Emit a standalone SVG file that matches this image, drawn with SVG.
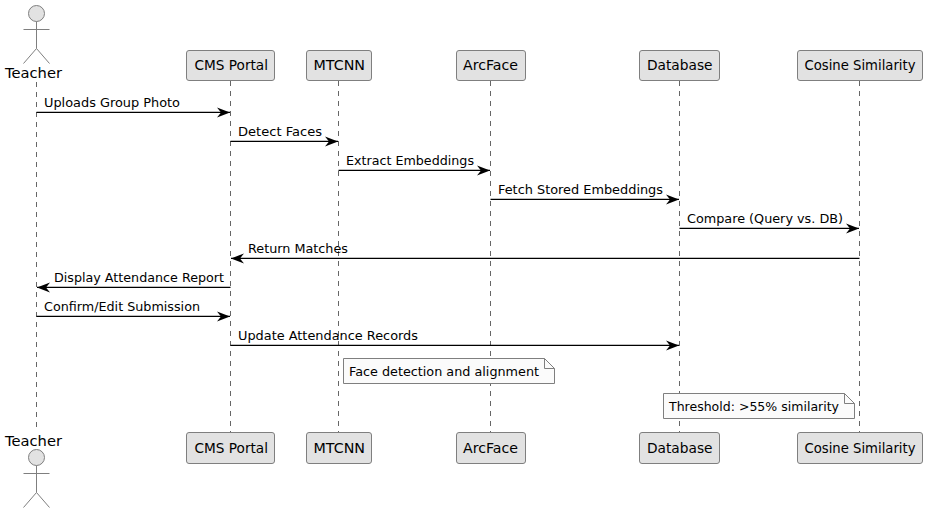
<svg xmlns="http://www.w3.org/2000/svg" width="927" height="513" viewBox="0 0 927 513">
<defs>
<marker id="ah" markerUnits="userSpaceOnUse" markerWidth="15" markerHeight="12" refX="13" refY="6" orient="auto"><path d="M0,1 L13,6 L0,11 L4,6 Z" fill="#000"/></marker>
</defs>
<style>
text{font-family:"DejaVu Sans",sans-serif;font-size:13px;fill:#000}
.life{stroke:#666;stroke-width:1;stroke-dasharray:5 5;fill:none}
.box{fill:#e2e2e2;stroke:#7f7f7f;stroke-width:1}
.msg{stroke:#000;stroke-width:1.2;fill:none;marker-end:url(#ah)}
.note{fill:#fbfbfb;stroke:#7f7f7f;stroke-width:1}
.fold{fill:none;stroke:#7f7f7f;stroke-width:1}
.act{fill:#e2e2e2;stroke:#7f7f7f;stroke-width:1}
.limb{fill:none;stroke:#7f7f7f;stroke-width:1}
.name{font-size:14px}
</style>
<rect width="927" height="513" fill="#fff"/>
<g id="lifelines">
<line class="life" x1="36.5" y1="82" x2="36.5" y2="432"/>
<line class="life" x1="230.5" y1="81" x2="230.5" y2="432"/>
<line class="life" x1="338.5" y1="81" x2="338.5" y2="432"/>
<line class="life" x1="490.5" y1="81" x2="490.5" y2="432"/>
<line class="life" x1="679.5" y1="81" x2="679.5" y2="432"/>
<line class="life" x1="859.5" y1="81" x2="859.5" y2="432"/>
</g>
<g id="teacher-top">
<circle class="act" cx="36.5" cy="13.5" r="8"/>
<path class="limb" d="M36.5,21.5V48.5M23.5,29.5H49.5M36.5,48.5L23.5,63.5M36.5,48.5L49.5,63.5"/>
<text x="5" y="78" class="name" textLength="57" lengthAdjust="spacingAndGlyphs">Teacher</text>
</g>
<g id="teacher-bottom">
<text x="5" y="446" class="name" textLength="57" lengthAdjust="spacingAndGlyphs">Teacher</text>
<circle class="act" cx="36.5" cy="457.5" r="8"/>
<path class="limb" d="M36.5,465.5V492.5M23.5,473.5H49.5M36.5,492.5L23.5,507.5M36.5,492.5L49.5,507.5"/>
</g>
<g id="cms-top"><rect class="box" x="186.5" y="50.5" width="88" height="30" rx="2.5"/><text class="name" x="194.5" y="70" textLength="73.5" lengthAdjust="spacingAndGlyphs">CMS Portal</text></g>
<g id="mtcnn-top"><rect class="box" x="306.5" y="50.5" width="65" height="30" rx="2.5"/><text class="name" x="313.5" y="70" textLength="51.5" lengthAdjust="spacingAndGlyphs">MTCNN</text></g>
<g id="arcface-top"><rect class="box" x="456.5" y="50.5" width="69" height="30" rx="2.5"/><text class="name" x="463" y="70" textLength="55" lengthAdjust="spacingAndGlyphs">ArcFace</text></g>
<g id="database-top"><rect class="box" x="639.5" y="50.5" width="80" height="30" rx="2.5"/><text class="name" x="647" y="70" textLength="65.5" lengthAdjust="spacingAndGlyphs">Database</text></g>
<g id="cosine-top"><rect class="box" x="797.5" y="50.5" width="125" height="30" rx="2.5"/><text class="name" x="804.5" y="70" textLength="111" lengthAdjust="spacingAndGlyphs">Cosine Similarity</text></g>
<g id="cms-bottom"><rect class="box" x="186.5" y="432.5" width="88" height="31" rx="2.5"/><text class="name" x="194.5" y="453" textLength="73.5" lengthAdjust="spacingAndGlyphs">CMS Portal</text></g>
<g id="mtcnn-bottom"><rect class="box" x="306.5" y="432.5" width="65" height="31" rx="2.5"/><text class="name" x="313.5" y="453" textLength="51.5" lengthAdjust="spacingAndGlyphs">MTCNN</text></g>
<g id="arcface-bottom"><rect class="box" x="456.5" y="432.5" width="69" height="31" rx="2.5"/><text class="name" x="463" y="453" textLength="55" lengthAdjust="spacingAndGlyphs">ArcFace</text></g>
<g id="database-bottom"><rect class="box" x="639.5" y="432.5" width="80" height="31" rx="2.5"/><text class="name" x="647" y="453" textLength="65.5" lengthAdjust="spacingAndGlyphs">Database</text></g>
<g id="cosine-bottom"><rect class="box" x="797.5" y="432.5" width="125" height="31" rx="2.5"/><text class="name" x="804.5" y="453" textLength="111" lengthAdjust="spacingAndGlyphs">Cosine Similarity</text></g>
<g id="connectors">
<line class="msg" x1="36.5" y1="112.4" x2="230" y2="112.4"/>
<line class="msg" x1="230.5" y1="141.4" x2="338" y2="141.4"/>
<line class="msg" x1="338.5" y1="170.4" x2="490" y2="170.4"/>
<line class="msg" x1="490.5" y1="199.4" x2="679" y2="199.4"/>
<line class="msg" x1="679.5" y1="228.4" x2="859" y2="228.4"/>
<line class="msg" x1="859.5" y1="258.4" x2="231" y2="258.4"/>
<line class="msg" x1="230.5" y1="287.4" x2="37" y2="287.4"/>
<line class="msg" x1="36.5" y1="316.4" x2="230" y2="316.4"/>
<line class="msg" x1="230.5" y1="345.4" x2="679" y2="345.4"/>
</g>
<g id="labels">
<text x="44" y="107" textLength="136" lengthAdjust="spacingAndGlyphs">Uploads Group Photo</text>
<text x="238" y="136" textLength="84" lengthAdjust="spacingAndGlyphs">Detect Faces</text>
<text x="346" y="165" textLength="128" lengthAdjust="spacingAndGlyphs">Extract Embeddings</text>
<text x="498" y="194" textLength="165" lengthAdjust="spacingAndGlyphs">Fetch Stored Embeddings</text>
<text x="687" y="223" textLength="156" lengthAdjust="spacingAndGlyphs">Compare (Query vs. DB)</text>
<text x="248" y="253" textLength="100" lengthAdjust="spacingAndGlyphs">Return Matches</text>
<text x="54" y="282" textLength="170" lengthAdjust="spacingAndGlyphs">Display Attendance Report</text>
<text x="44" y="311" textLength="156" lengthAdjust="spacingAndGlyphs">Confirm/Edit Submission</text>
<text x="238" y="340" textLength="180" lengthAdjust="spacingAndGlyphs">Update Attendance Records</text>
</g>
<g id="note-face">
<path class="note" d="M343.5,358.5H544.5L554.5,368.5V383.5H343.5Z"/>
<path class="fold" d="M544.5,358.5V368.5H554.5"/>
<text x="349" y="376" textLength="190" lengthAdjust="spacingAndGlyphs">Face detection and alignment</text>
</g>
<g id="note-threshold">
<path class="note" d="M663.5,393.5H844.5L854.5,403.5V418.5H663.5Z"/>
<path class="fold" d="M844.5,393.5V403.5H854.5"/>
<text x="669" y="411" textLength="170" lengthAdjust="spacingAndGlyphs">Threshold: &gt;55% similarity</text>
</g>
</svg>
